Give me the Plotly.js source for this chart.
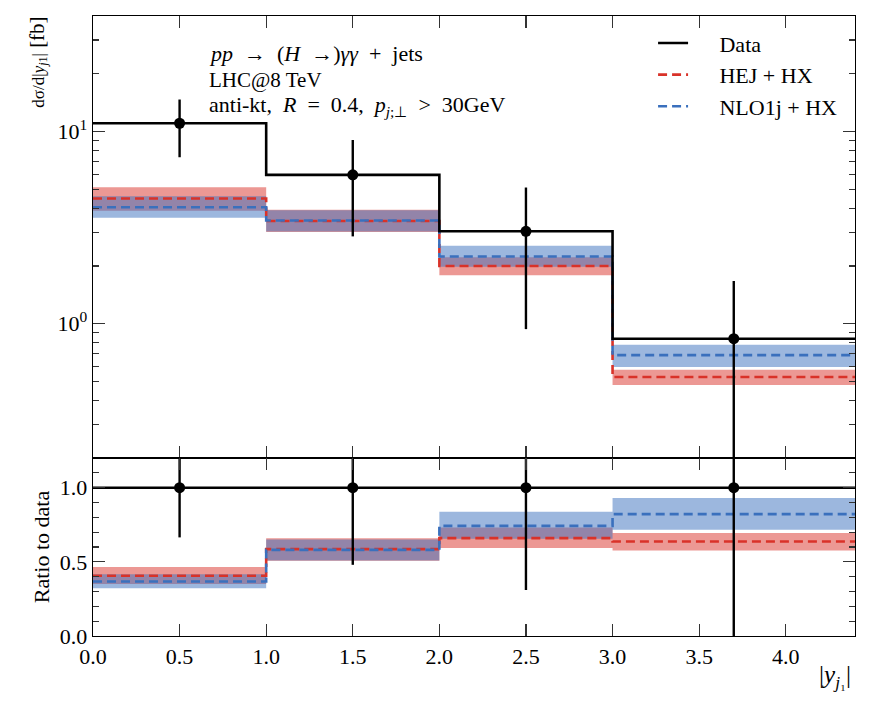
<!DOCTYPE html>
<html>
<head>
<meta charset="utf-8">
<script src="https://cdn.plot.ly/plotly-3.0.1.min.js"></script>
<style>html,body{margin:0;padding:0;background:#fff;}#chart{width:872px;height:708px;}</style>
</head>
<body>
<div id="chart"></div>
<script>
// ---- data ----
const binEdges = [0, 1, 2, 3, 4.4];
const binCenters = [0.5, 1.5, 2.5, 3.7];

const dataVal = [11.06, 5.96, 3.03, 0.836];
const dataLo  = [7.36, 2.85, 0.938, 0.05];
const dataHi  = [14.7, 9.05, 5.12, 1.67];

const hejVal = [4.49, 3.43, 2.00, 0.528];
const hejLo  = [3.87, 3.00, 1.79, 0.480];
const hejHi  = [5.14, 3.92, 2.22, 0.577];

const nloVal = [4.04, 3.45, 2.24, 0.687];
const nloLo  = [3.56, 3.02, 1.98, 0.595];
const nloHi  = [4.61, 3.90, 2.55, 0.778];

const ratioData   = [1.0, 1.0, 1.0, 1.0];
const ratioDataLo = [0.665, 0.48, 0.31, -0.2];
const ratioDataHi = [1.33, 1.52, 1.69, 2.0];

const ratioHejVal = [0.406, 0.586, 0.660, 0.637];
const ratioHejLo  = [0.350, 0.507, 0.593, 0.576];
const ratioHejHi  = [0.466, 0.660, 0.732, 0.694];

const ratioNloVal = [0.368, 0.581, 0.743, 0.822];
const ratioNloLo  = [0.322, 0.510, 0.655, 0.716];
const ratioNloHi  = [0.417, 0.650, 0.838, 0.930];

const yTickVals = [1, 10];
const yTickText = ['10<sup>0</sup>', '10<sup>1</sup>'];
const yMinorVals = [0.2,0.3,0.4,0.5,0.6,0.7,0.8,0.9,2,3,4,5,6,7,8,9,20,30,40];

const legendNames = ['Data', 'HEJ + HX', 'NLO1j + HX'];

// ---- styles ----
const RED = '#d93229', BLUE = '#3a70bd';
const RED_FILL = 'rgba(217,50,41,0.5)', BLUE_FILL = 'rgba(58,112,189,0.5)';
const FONT = 'Liberation Serif, Times New Roman, serif';
const PAD = '\u2003\u2009';

function stepY(v) { return v.concat([v[v.length - 1]]); }
function errSegs(lo, hi) {
  const xs = [], ys = [];
  for (let i = 0; i < binCenters.length; i++) {
    xs.push(binCenters[i], binCenters[i], null);
    ys.push(lo[i], hi[i], null);
  }
  return {xs, ys};
}
function band(lo, hi, fill, xa, ya) {
  return [
    {x: binEdges, y: stepY(lo), type: 'scatter', mode: 'lines', line: {shape: 'hv', width: 0}, xaxis: xa, yaxis: ya, showlegend: false, hoverinfo: 'skip'},
    {x: binEdges, y: stepY(hi), type: 'scatter', mode: 'lines', line: {shape: 'hv', width: 0}, fill: 'tonexty', fillcolor: fill, xaxis: xa, yaxis: ya, showlegend: false, hoverinfo: 'skip'}
  ];
}
function stepLine(v, color, dash, xa, ya, name, show, rank) {
  return {x: binEdges, y: stepY(v), type: 'scatter', mode: 'lines', name: name,
    line: {shape: 'hv', color: color, width: 2.6, dash: dash}, xaxis: xa, yaxis: ya,
    showlegend: show, legendrank: rank};
}

const e1 = errSegs(dataLo, dataHi);
const e2 = errSegs(ratioDataLo, ratioDataHi);

const traces = [].concat(
  band(hejLo, hejHi, RED_FILL, 'x', 'y'),
  band(nloLo, nloHi, BLUE_FILL, 'x', 'y'),
  band(ratioHejLo, ratioHejHi, RED_FILL, 'x2', 'y2'),
  band(ratioNloLo, ratioNloHi, BLUE_FILL, 'x2', 'y2'),
  [
    stepLine(hejVal, RED, '9px,5px', 'x', 'y', PAD + legendNames[1], true, 2),
    stepLine(nloVal, BLUE, '9px,5px', 'x', 'y', PAD + legendNames[2], true, 3),
    stepLine(ratioHejVal, RED, '9px,5px', 'x2', 'y2', '', false, 10),
    stepLine(ratioNloVal, BLUE, '9px,5px', 'x2', 'y2', '', false, 10),
    stepLine(dataVal, '#000', 'solid', 'x', 'y', PAD + legendNames[0], true, 1),
    stepLine(ratioData, '#000', 'solid', 'x2', 'y2', '', false, 10),
    {x: e1.xs, y: e1.ys, type: 'scatter', mode: 'lines', line: {color: '#000', width: 2.4}, xaxis: 'x', yaxis: 'y', showlegend: false},
    {x: e2.xs, y: e2.ys, type: 'scatter', mode: 'lines', line: {color: '#000', width: 2.4}, xaxis: 'x2', yaxis: 'y2', showlegend: false},
    {x: binCenters, y: dataVal, type: 'scatter', mode: 'markers', marker: {color: '#000', size: 11}, xaxis: 'x', yaxis: 'y', showlegend: false, cliponaxis: false},
    {x: binCenters, y: ratioData, type: 'scatter', mode: 'markers', marker: {color: '#000', size: 11}, xaxis: 'x2', yaxis: 'y2', showlegend: false, cliponaxis: false}
  ]
);

const axCommon = {showline: true, linecolor: '#000', linewidth: 1.3, mirror: 'allticks',
  ticks: 'inside', ticklen: 12, tickwidth: 1.1, tickcolor: '#333', showgrid: false, zeroline: false,
  tickfont: {family: FONT, size: 22, color: '#000'}};

const layout = {
  width: 872, height: 708,
  margin: {l: 93, r: 17, t: 16, b: 72},
  paper_bgcolor: '#fff', plot_bgcolor: '#fff',
  font: {family: FONT, size: 20, color: '#000'},
  showlegend: true,
  legend: {x: 0.735, y: 0.99, xanchor: 'left', yanchor: 'top', bgcolor: 'rgba(0,0,0,0)', traceorder: 'normal',
    font: {family: FONT, size: 22, color: '#000'}, tracegroupgap: 0},
  xaxis: Object.assign({}, axCommon, {domain: [0, 1], range: [0, 4.4], anchor: 'y', tick0: 0, dtick: 0.5, showticklabels: false}),
  yaxis: Object.assign({}, axCommon, {domain: [0.287, 1], type: 'log', range: [Math.log10(0.2), Math.log10(40)], anchor: 'x',
    tickmode: 'array', tickvals: yTickVals, ticktext: yTickText,
    minor: {ticks: 'inside', ticklen: 6, tickwidth: 1.1, tickcolor: '#333', tickmode: 'array', tickvals: yMinorVals, showgrid: false}}),
  xaxis2: Object.assign({}, axCommon, {domain: [0, 1], range: [0, 4.4], anchor: 'y2', tick0: 0, dtick: 0.5, tickformat: '.1f'}),
  yaxis2: Object.assign({}, axCommon, {domain: [0, 0.287], range: [0, 1.2], anchor: 'x2', tick0: 0, dtick: 0.5, tickformat: '.1f',
    minor: {ticks: 'inside', ticklen: 6, tickwidth: 1.1, tickcolor: '#333', dtick: 0.1, showgrid: false}}),
  annotations: [
    {xref: 'paper', yref: 'paper', x: 0.1496, y: 0.940, xanchor: 'left', yanchor: 'middle', showarrow: false,
      text: '<i>pp</i>\u2002→\u2002(<i>H</i>\u2002→)<i>γγ</i>\u2002+\u2002jets', font: {family: FONT, size: 22}},
    {xref: 'paper', yref: 'paper', x: 0.1496, y: 0.897, xanchor: 'left', yanchor: 'middle', showarrow: false,
      text: 'LHC@8 TeV', font: {family: FONT, size: 21}},
    {xref: 'paper', yref: 'paper', x: 0.1496, y: 0.855, xanchor: 'left', yanchor: 'middle', showarrow: false,
      text: 'anti-kt,\u2002<i>R</i>\u2002=\u20020.4,\u2002<i>p</i><sub><i>j</i>;⊥</sub>\u2002>\u200230GeV', font: {family: FONT, size: 22}},
    {xref: 'paper', yref: 'paper', x: -0.072, y: 0.925, xanchor: 'center', yanchor: 'middle', showarrow: false, textangle: -90,
      text: '<span style="font-size:17px">dσ/d|<i>y</i><sub><i>j</i>1</sub>|</span> [fb]', font: {family: FONT, size: 21}},
    {xref: 'paper', yref: 'paper', x: -0.068, y: 0.1435, xanchor: 'center', yanchor: 'middle', showarrow: false, textangle: -90,
      text: 'Ratio to data', font: {family: FONT, size: 22}},
    {xref: 'paper', yref: 'paper', x: 0.974, y: -0.066, xanchor: 'center', yanchor: 'middle', showarrow: false,
      text: '|<i>y</i><sub><i>j</i>₁</sub>|', font: {family: FONT, size: 25}}
  ]
};

Plotly.newPlot('chart', traces, layout, {staticPlot: true, displayModeBar: false});
</script>
</body>
</html>
